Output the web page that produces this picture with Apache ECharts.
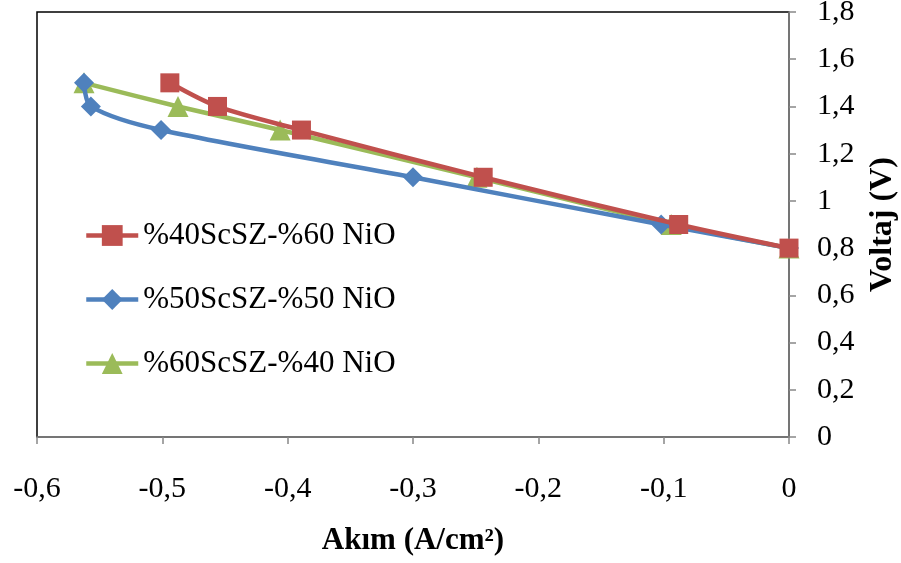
<!DOCTYPE html>
<html>
<head>
<meta charset="utf-8">
<script src="https://cdn.jsdelivr.net/npm/echarts@6/dist/echarts.min.js"></script>
<style>
  html, body { margin: 0; padding: 0; background: #fff; }
  #chart { width: 901px; height: 563px; }
</style>
</head>
<body>
<div id="chart"></div>
<script>
// ── Data ──────────────────────────────────────────────────────────────────────
const seriesNames = ['%40ScSZ-%60 NiO', '%50ScSZ-%50 NiO', '%60ScSZ-%40 NiO'];

const akim40 = [-0.494, -0.456, -0.389, -0.244, -0.088, 0];
const volt40 = [1.5, 1.4, 1.3, 1.1, 0.9, 0.8];

const akim50 = [-0.5625, -0.557, -0.501, -0.300, -0.102, 0];
const volt50 = [1.5, 1.4, 1.3, 1.1, 0.9, 0.8];

const akim60 = [-0.5625, -0.4875, -0.406, -0.249, -0.094, 0];
const volt60 = [1.5, 1.4, 1.3, 1.1, 0.9, 0.8];

const colors  = ['#C0504D', '#4F81BD', '#9BBB59'];
const symbols = ['rect', 'diamond', 'triangle'];
const sizes   = [19, 20, 21];

const FONT = '"Liberation Serif", "Times New Roman", serif';
const comma = v => String(Math.round(v * 10) / 10).replace('.', ',');

const pairs = (xs, ys) => xs.map((x, i) => [x, ys[i]]);
const data = [pairs(akim40, volt40), pairs(akim50, volt50), pairs(akim60, volt60)];

const chart = echarts.init(document.getElementById('chart'), null, { renderer: 'canvas' });

chart.setOption({
  animation: false,
  backgroundColor: '#fff',
  grid: {
    left: 37, right: 112, top: 12, bottom: 126,
    containLabel: false,
    outerBoundsMode: 'none',
    show: true, borderColor: '#000', borderWidth: 1.5,
  },
  legend: {
    orient: 'vertical',
    left: 79, top: 215,
    itemGap: 33,
    itemWidth: 52, itemHeight: 26,
    data: seriesNames,
    lineStyle: { width: 4.5 },
    textStyle: { fontFamily: FONT, fontSize: 31, color: '#000' },
  },
  xAxis: {
    type: 'value',
    min: -0.6, max: 0, interval: 0.1,
    axisLine: { show: true, onZero: false, lineStyle: { color: '#888', width: 1.5 } },
    axisTick: { show: true, length: 7, lineStyle: { color: '#888', width: 1.5 } },
    splitLine: { show: false },
    axisLabel: {
      margin: 37, fontFamily: FONT, fontSize: 30, color: '#000',
      formatter: comma,
    },
    name: 'Akım (A/cm²)',
    nameLocation: 'middle', nameGap: 88,
    nameTextStyle: { fontFamily: FONT, fontSize: 31, fontWeight: 'bold', color: '#000' },
  },
  yAxis: {
    type: 'value',
    position: 'right',
    min: 0, max: 1.8, interval: 0.2,
    axisLine: { show: true, onZero: false, lineStyle: { color: '#888', width: 1.5 } },
    axisTick: { show: true, length: 7, lineStyle: { color: '#888', width: 1.5 } },
    splitLine: { show: false },
    axisLabel: {
      margin: 28, fontFamily: FONT, fontSize: 30, color: '#000',
      formatter: comma,
    },
    name: 'Voltaj (V)',
    nameLocation: 'middle', nameGap: 78, nameRotate: 90,
    nameTextStyle: { fontFamily: FONT, fontSize: 32, fontWeight: 'bold', color: '#000' },
  },
  series: seriesNames.map((name, i) => ({
    name,
    type: 'line',
    data: data[i],
    smooth: 0.3,
    symbol: symbols[i],
    symbolSize: sizes[i],
    itemStyle: { color: colors[i] },
    lineStyle: { color: colors[i], width: 4.5 },
    z: 10 - i,
  })),
});
</script>
</body>
</html>
